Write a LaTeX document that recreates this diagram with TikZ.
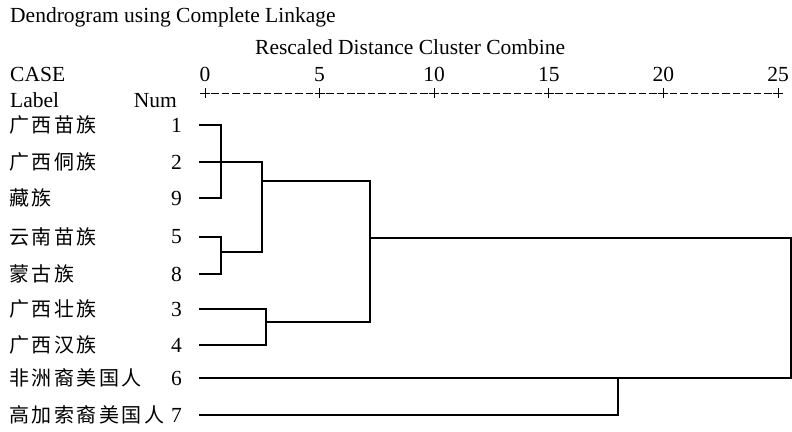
\documentclass[tikz,border=0pt]{standalone}
\usepackage{fontspec}
\setmainfont{Liberation Serif}
\newfontfamily\cjk{Noto Sans CJK SC}
\makeatletter
\newcommand\spacedcjk[1]{{\cjk\@tfor\my@ch:=#1\do{\makebox[22.5pt][l]{\my@ch}}}}
\makeatother
\tikzset{
  txt/.style={inner sep=0pt, font=\fontsize{21.5}{24}\selectfont},
  lab/.style={inner sep=0pt, anchor=west, font=\fontsize{20}{22}\selectfont},
  num/.style={inner sep=0pt, anchor=east, font=\fontsize{21.5}{24}\selectfont},
  tree/.style={line width=2.1pt, line cap=rect, line join=miter},
  axisdash/.style={line width=0.8pt, dash pattern=on 7.5pt off 2.96pt},
  tick/.style={line width=0.8pt}
}
\begin{document}
\begin{tikzpicture}[x=1pt,y=-1pt]
\useasboundingbox (0,0) rectangle (792,431);

\node[txt, anchor=base west] (title) at (10,22) {Dendrogram using Complete Linkage};
\node[txt, anchor=base west] (rescaled) at (255,54) {Rescaled Distance Cluster Combine};
\node[txt, anchor=base west] (case) at (10,81) {CASE};
\node[txt, anchor=base west] (label) at (10,107) {Label};
\node[txt, anchor=base east] (numh) at (177,107) {Num};

% axis
\foreach \k/\v in {0/0,1/5,2/10,3/15,4/20,5/25}{
  \pgfmathsetmacro{\xx}{205+\k*114.6}
  \node[txt, anchor=base] (t\k) at (\xx,81) {\v};
  \draw[tick] (\xx-5,93) -- (\xx+5,93) (\xx,88) -- (\xx,98);
}
\foreach \k in {0,...,4}{
  \pgfmathsetmacro{\xa}{205+\k*114.6+5+1.48}
  \pgfmathsetmacro{\xb}{205+(\k+1)*114.6-5-1.48}
  \draw[axisdash] (\xa,93) -- (\xb,93);
}

% row labels
\foreach \n/\y/\t in {r1/125/广西苗族, r2/162/广西侗族, r9/198/藏族, r5/237/云南苗族, r8/274/蒙古族, r3/309/广西壮族, r4/345/广西汉族, r6/378/非洲裔美国人, r7/415/高加索裔美国人}{
  \node[lab] (\n) at (9,\y) {\expandafter\spacedcjk\expandafter{\t}};
}
\foreach \n/\y/\t in {1/125/1, 2/162/2, 9/198/9, 5/237/5, 8/274/8, 3/309/3, 4/345/4, 6/378/6, 7/415/7}{
  \node[num] (n\n) at (182,\y) {\t};
}

% tree
\coordinate (l1) at (200,125);
\coordinate (l2) at (200,162);
\coordinate (l9) at (200,198);
\coordinate (l5) at (200,237);
\coordinate (l8) at (200,274);
\coordinate (l3) at (200,309);
\coordinate (l4) at (200,345);
\coordinate (l6) at (200,378);
\coordinate (l7) at (200,415);

\draw[tree] (l1) -- (221,125) -- (221,198) -- (l9);
\draw[tree] (l2) -- (262,162);
\draw[tree] (l5) -- (221,237) -- (221,274) -- (l8);
\draw[tree] (221,252) -- (262,252);
\draw[tree] (262,162) -- (262,252);
\draw[tree] (262,181) -- (370,181);
\draw[tree] (l3) -- (266,309) -- (266,345) -- (l4);
\draw[tree] (266,322) -- (370,322);
\draw[tree] (370,181) -- (370,322);
\draw[tree] (370,238) -- (791,238) -- (791,378) -- (l6);
\draw[tree] (l7) -- (618,415) -- (618,378);
\end{tikzpicture}
\end{document}
